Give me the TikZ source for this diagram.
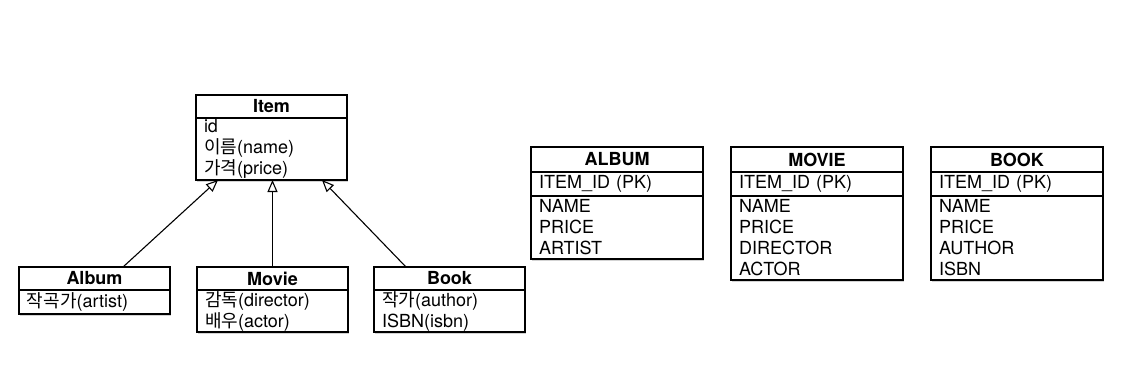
\documentclass[tikz,border=0pt]{standalone}
\usepackage{fontspec}
\setmainfont{TeX Gyre Heros}
\newfontfamily\hangul{Noto Sans CJK KR}
\usetikzlibrary{arrows.meta,positioning,shadows}
\tikzset{
  boxtext/.style={draw=black, line width=1.2pt, fill=white, outer sep=0pt,
    inner xsep=8pt, inner ysep=1pt, font=\fontsize{18}{21}\selectfont},
  classhead/.style={boxtext, text width=135pt, align=center, minimum height=23pt,
    font=\fontsize{18}{21}\selectfont\bfseries},
  classbody/.style={boxtext, text width=135pt, align=left,
    drop shadow={shadow xshift=0.6pt, shadow yshift=-2pt, opacity=0.35}},
  tablehead/.style={boxtext, text width=156pt, align=center, minimum height=25pt,
    font=\fontsize{18}{21}\selectfont\bfseries},
  tablekey/.style={boxtext, text width=156pt, align=left, minimum height=24pt},
  tablebody/.style={boxtext, text width=156pt, align=left,
    drop shadow={shadow xshift=0.6pt, shadow yshift=-2pt, opacity=0.35}},
  extends/.style={-{Triangle[open, length=12pt, width=10pt]}, line width=1.1pt},
}

\begin{document}
\begin{tikzpicture}[x=1pt, y=-1pt]
\useasboundingbox (0,0) rectangle (1127,389);
% class diagram
\node[classhead, anchor=north] (itemh) at (271.5,95) {Item};
\node[classbody, minimum height=62pt, below=0pt of itemh] (itemb)
  {id\\{\hangul 이름}(name)\\{\hangul 가격}(price)};
\node[classhead, anchor=north west] (albumh) at (19,267) {Album};
\node[classbody, minimum height=24pt, below=0pt of albumh] (albumb)
  {{\hangul 작곡가}(artist)};
\node[classhead, right=27pt of albumh] (movieh) {Movie};
\node[classbody, minimum height=42pt, below=0pt of movieh] (movieb)
  {{\hangul 감독}(director)\\{\hangul 배우}(actor)};
\node[classhead, right=26pt of movieh] (bookh) {Book};
\node[classbody, minimum height=42pt, below=0pt of bookh] (bookb)
  {{\hangul 작가}(author)\\ISBN(isbn)};
\draw[extends] ([xshift=28.5pt]albumh.north) -- ([xshift=-53.5pt]itemb.south);
\draw[extends] (movieh.north) -- (movieh.north |- itemb.south);
\draw[extends] ([xshift=-43.5pt]bookh.north) -- ([xshift=50.5pt]itemb.south);
% tables
\node[tablehead, anchor=north west] (albumt) at (531,147) {ALBUM};
\node[tablekey, below=0pt of albumt] (albumk) {ITEM\_ID (PK)};
\node[tablebody, minimum height=63pt, below=0pt of albumk] (albumc)
  {NAME\\PRICE\\ARTIST};
\node[tablehead, right=28pt of albumt] (moviet) {MOVIE};
\node[tablekey, below=0pt of moviet] (moviek) {ITEM\_ID (PK)};
\node[tablebody, minimum height=84pt, below=0pt of moviek] (moviec)
  {NAME\\PRICE\\DIRECTOR\\ACTOR};
\node[tablehead, right=28pt of moviet] (bookt) {BOOK};
\node[tablekey, below=0pt of bookt] (bookk) {ITEM\_ID (PK)};
\node[tablebody, minimum height=84pt, below=0pt of bookk] (bookc)
  {NAME\\PRICE\\AUTHOR\\ISBN};
\end{tikzpicture}
\end{document}
